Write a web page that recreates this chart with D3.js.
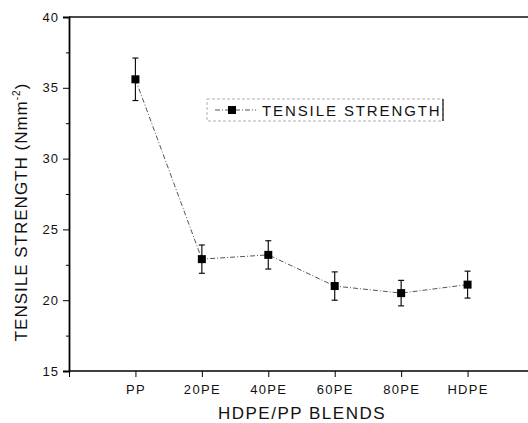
<!DOCTYPE html>
<html><head><meta charset="utf-8">
<script src="https://cdn.jsdelivr.net/npm/d3@7"></script>
<style>body{margin:0;background:#fff}svg{display:block}text{font-family:Arial,"Liberation Sans",sans-serif;fill:#111}</style>
</head><body>
<script>
const categories = ["PP","20PE","40PE","60PE","80PE","HDPE"];
const strength = [35.6, 22.9, 23.2, 21.0, 20.5, 21.1];
const errors = [1.5, 1.0, 1.0, 1.0, 0.9, 0.95];
const yTicks = [15,20,25,30,35,40];
const seriesName = "TENSILE STRENGTH";

const W=528,H=423;
const svg=d3.select("body").append("svg").attr("width",W).attr("height",H);
const x=d3.scaleLinear().domain([0,7]).range([69,534]);
const y=d3.scaleLinear().domain([15,40]).range([371,17]);
const FF="Arial, 'Liberation Sans', sans-serif";

// top frame line
svg.append("line").attr("x1",69).attr("x2",W).attr("y1",y(40)).attr("y2",y(40)).attr("stroke","#111").attr("stroke-width",1.6);
// y axis
const ya=svg.append("g").attr("transform","translate(69,0)")
  .call(d3.axisLeft(y).tickValues(yTicks).tickSize(6).tickPadding(4).tickFormat(d3.format("d")));
ya.select(".domain").attr("stroke-width",1.8);
ya.selectAll("text").style("font-size","13px").style("font-family",FF).style("letter-spacing","1px");
const yminor=svg.append("g").attr("transform","translate(69,0)")
  .call(d3.axisLeft(y).tickValues(d3.range(17.5,40,5)).tickSize(3).tickFormat(""));
yminor.select(".domain").remove();
// x axis
const xa=svg.append("g").attr("transform","translate(0,371)")
  .call(d3.axisBottom(x).tickValues(d3.range(0,7)).tickSize(6).tickPadding(8)
  .tickFormat(i=>i===0?"":categories[i-1]));
xa.select(".domain").attr("stroke-width",1.6).attr("d","M69,0H"+W);
xa.selectAll("text").style("font-size","13px").style("font-family",FF).style("letter-spacing","1.3px");

const pts=strength.map((v,i)=>({x:i+1,v,e:errors[i]}));
// connecting line
svg.append("path").datum(pts)
  .attr("d",d3.line().x(d=>x(d.x)).y(d=>y(d.v)))
  .attr("fill","none").attr("stroke","#555").attr("stroke-width",1).attr("stroke-dasharray","5,2,1,2");
// error bars
const eb=svg.append("g").attr("stroke","#111").attr("stroke-width",1.2);
pts.forEach(d=>{
  eb.append("line").attr("x1",x(d.x)).attr("x2",x(d.x)).attr("y1",y(d.v+d.e)).attr("y2",y(d.v-d.e));
  eb.append("line").attr("x1",x(d.x)-3).attr("x2",x(d.x)+3).attr("y1",y(d.v+d.e)).attr("y2",y(d.v+d.e));
  eb.append("line").attr("x1",x(d.x)-3).attr("x2",x(d.x)+3).attr("y1",y(d.v-d.e)).attr("y2",y(d.v-d.e));
});
svg.append("g").selectAll("rect").data(pts).join("rect")
  .attr("x",d=>x(d.x)-4).attr("y",d=>y(d.v)-4).attr("width",8).attr("height",8).attr("fill","#000");

// legend
const lg=svg.append("g");
lg.append("rect").attr("x",207).attr("y",99).attr("width",236).attr("height",22).attr("fill","none").attr("stroke","#999").attr("stroke-width",0.8).attr("stroke-dasharray","3,2");
lg.append("line").attr("x1",443).attr("x2",443).attr("y1",99).attr("y2",121).attr("stroke","#111").attr("stroke-width",1.2);
lg.append("line").attr("x1",215).attr("x2",256).attr("y1",110).attr("y2",110).attr("stroke","#555").attr("stroke-dasharray","5,2,1,2");
lg.append("rect").attr("x",228).attr("y",106).attr("width",8).attr("height",8).attr("fill","#000");
lg.append("text").attr("x",262).attr("y",115.5).style("font-size","15px").style("letter-spacing","1.9px").text(seriesName);

// axis titles
svg.append("text").attr("x",302).attr("y",419).attr("text-anchor","middle").style("font-size","17px").style("letter-spacing","1.5px").text("HDPE/PP BLENDS");
const yt=svg.append("text").attr("transform","translate(27,212) rotate(-90)").attr("text-anchor","middle").style("font-size","17px").style("letter-spacing","1px");
yt.append("tspan").text("TENSILE STRENGTH (Nmm");
yt.append("tspan").attr("dy",-7).style("font-size","10px").text("-2");
yt.append("tspan").attr("dy",7).text(")");
</script>
</body></html>
